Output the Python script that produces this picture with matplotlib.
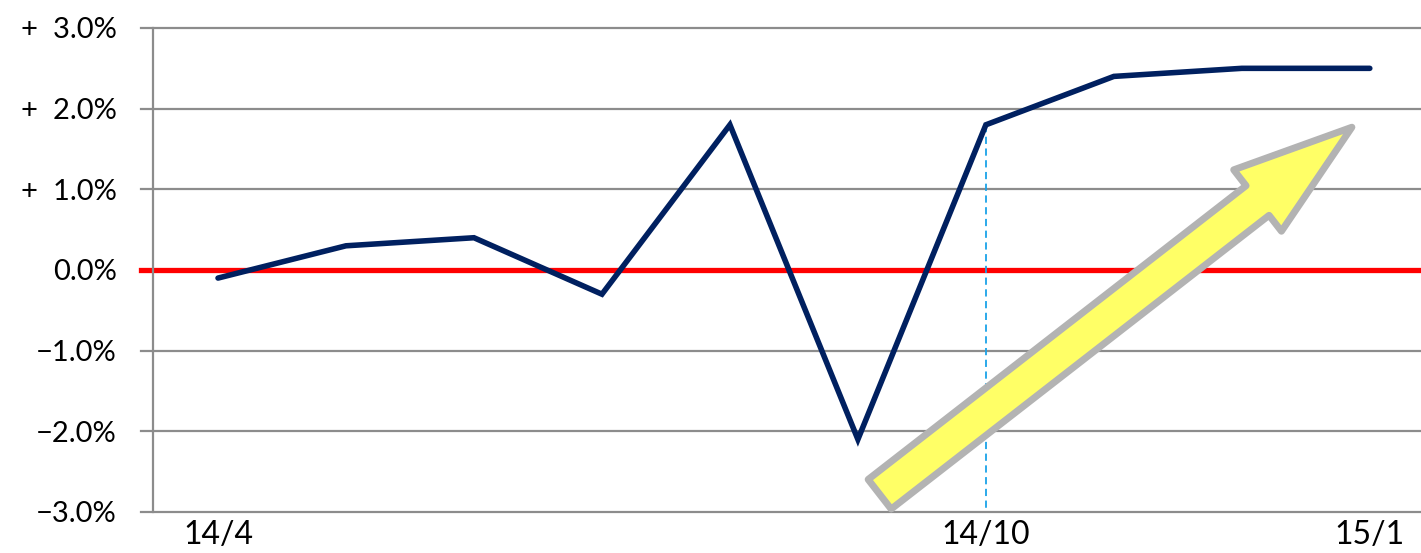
import matplotlib
matplotlib.use("Agg")
import matplotlib.pyplot as plt

months = ["14/4", "14/5", "14/6", "14/7", "14/8", "14/9", "14/10", "14/11", "14/12", "15/1"]
values = [-0.1, 0.3, 0.4, -0.3, 1.8, -2.1, 1.8, 2.4, 2.5, 2.5]
ytick_vals = [3, 2, 1, 0, -1, -2, -3]
ytick_labels = ["+  3.0%", "+  2.0%", "+  1.0%", "0.0%", "\u22121.0%", "\u22122.0%", "\u22123.0%"]
xtick_idx = [0, 6, 9]
xtick_labels = ["14/4", "14/10", "15/1"]
marker_idx = 6  # dashed guide at 14/10

W, H = 1421, 553
fig = plt.figure(figsize=(W / 100, H / 100), dpi=100)
ax = fig.add_axes([153 / W, 1 - 512 / H, (1421 - 153) / W, (512 - 28) / H])

grid_c = "#8C8C8C"
x = list(range(len(months)))

ax.set_xlim(-0.508, 9.4)
ax.set_ylim(-3, 3)

for v in ytick_vals:
    if v != 0:
        ax.axhline(v, xmin=-12 / 1268, xmax=1, color=grid_c, lw=1.6, clip_on=False, zorder=1)

ax.axhline(0, xmin=-12 / 1268, xmax=1, color="#FF0000", lw=3.8, clip_on=False, zorder=2)

ax.plot([marker_idx, marker_idx], [values[marker_idx], -3], color="#1AA3E8", lw=1.3,
        ls=(0, (4, 2.5)), zorder=2)

ax.plot(x, values, color="#002060", lw=4.0, solid_capstyle="round", solid_joinstyle="miter", zorder=3)

ax.annotate("", xy=(8.86, 1.77), xytext=(5.17, -2.78),
            arrowprops=dict(arrowstyle="simple,head_length=0.86,head_width=0.56,tail_width=0.27",
                            fc="#FFFF66", ec="#B3B3B3", lw=5, shrinkA=0, shrinkB=0,
                            mutation_scale=100),
            annotation_clip=False, zorder=4)

for s in ["top", "right", "bottom"]:
    ax.spines[s].set_visible(False)
ax.spines["left"].set_color(grid_c)
ax.spines["left"].set_linewidth(1.6)

font = "Lato"
ax.set_yticks(ytick_vals)
ax.set_yticklabels(ytick_labels, fontsize=21, family=font)
ax.tick_params(axis="y", length=0, pad=26)
ax.set_xticks(xtick_idx)
ax.set_xticklabels(xtick_labels, fontsize=23, family=font)
ax.tick_params(axis="x", length=0, pad=6)

fig.savefig("out.png", dpi=100)
